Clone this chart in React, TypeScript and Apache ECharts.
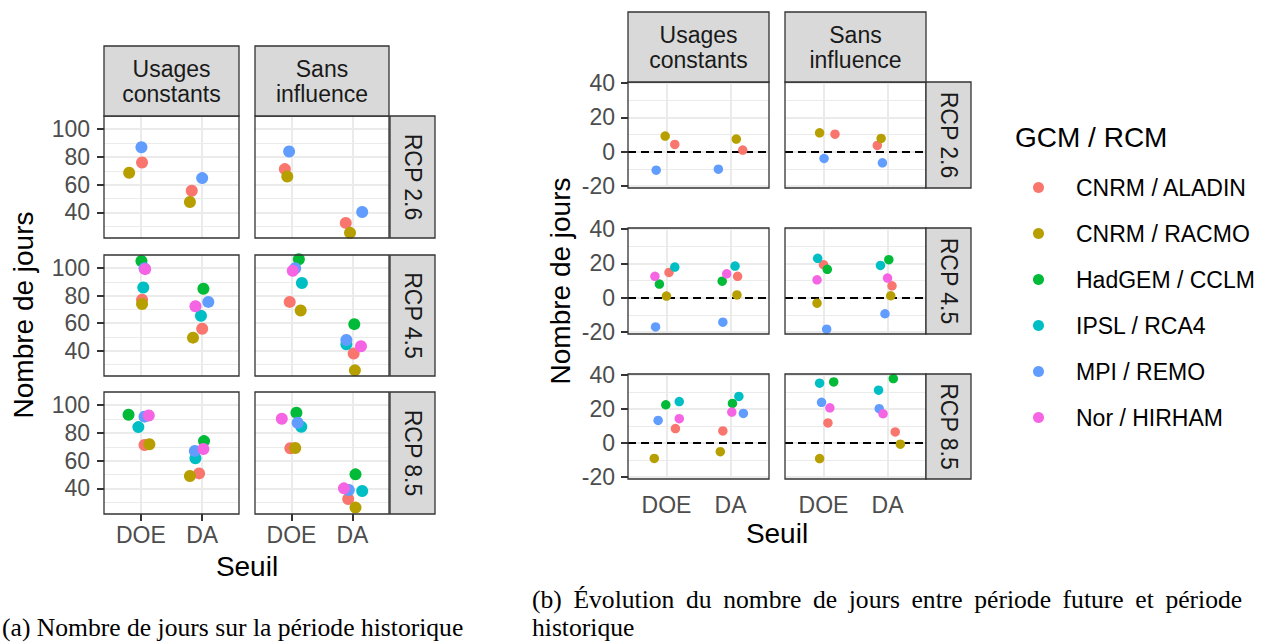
import React, { useEffect, useRef } from 'react';
import * as echarts from 'echarts';

// ---------- data ----------
const MODELS = ['CNRM / ALADIN', 'CNRM / RACMO', 'HadGEM / CCLM', 'IPSL / RCA4', 'MPI / REMO', 'Nor / HIRHAM'];
const COLORS = ['#F8766D', '#B79F00', '#00BA38', '#00BFC4', '#619CFF', '#F564E3'];
const SEUILS = ['DOE', 'DA'];
const SCENARIOS = ['Usages\nconstants', 'Sans\ninfluence'];
const RCPS = ['RCP 2.6', 'RCP 4.5', 'RCP 8.5'];
const HIST_TICKS = [40, 60, 80, 100];
const HIST_MINOR = [30, 50, 70, 90];
const DELTA_TICKS = [-20, 0, 20, 40];
const DELTA_MINOR = [-10, 10, 30];

// values per model: [DOE, DA] (null = model not available)
const HIST_26_USAGES = [[76.0, 55.6], [68.6, 47.5], null, null, [87.0, 64.7], null];
const HIST_26_SANS = [[71.2, 32.4], [65.9, 25.2], null, null, [83.9, 40.3], null];
const HIST_45_USAGES = [[77.0, 55.9], [73.9, 49.4], [105.2, 85.0], [85.9, 65.3], [99.8, 75.4], [99.2, 72.2]];
const HIST_45_SANS = [[75.4, 37.9], [69.1, 25.6], [106.4, 59.2], [89.1, 44.6], [99.9, 47.7], [98.0, 43.1]];
const HIST_85_USAGES = [[71.3, 50.8], [71.8, 48.9], [93.1, 74.1], [84.2, 61.7], [91.7, 67.0], [92.5, 68.4]];
const HIST_85_SANS = [[68.9, 32.3], [69.1, 26.1], [94.6, 50.1], [84.4, 38.1], [87.3, 38.8], [90.2, 40.0]];

const DELTA_26_USAGES = [[4.2, 0.9], [9.1, 7.3], null, null, [-10.8, -10.2], null];
const DELTA_26_SANS = [[10.2, 3.6], [11.0, 7.7], null, null, [-4.0, -6.5], null];
const DELTA_45_USAGES = [[14.7, 12.4], [0.9, 1.6], [7.9, 9.6], [17.8, 18.4], [-17.1, -14.3], [12.4, 13.9]];
const DELTA_45_SANS = [[19.2, 6.9], [-3.2, 1.1], [16.5, 22.1], [22.9, 18.8], [-18.4, -9.4], [10.4, 11.4]];
const DELTA_85_USAGES = [[8.5, 7.1], [-9.1, -5.1], [22.5, 23.3], [24.4, 27.4], [13.3, 17.4], [14.3, 18.2]];
const DELTA_85_SANS = [[11.8, 6.5], [-9.2, -0.7], [35.9, 37.9], [35.2, 31.1], [23.9, 20.2], [20.7, 17.2]];

// horizontal jitter (category units) per model: [DOE, DA]
const J_HIST_26_USAGES = [[0.02, -0.17], [-0.19, -0.2], null, null, [0.01, 0.0], null];
const J_HIST_26_SANS = [[-0.11, -0.11], [-0.07, -0.04], null, null, [-0.04, 0.16], null];
const J_HIST_45_USAGES = [[0.02, 0.0], [0.02, -0.15], [0.01, 0.02], [0.04, -0.02], [0.06, 0.1], [0.07, -0.11]];
const J_HIST_45_SANS = [[-0.03, 0.02], [0.15, 0.04], [0.12, 0.03], [0.17, -0.1], [0.06, -0.1], [0.02, 0.14]];
const J_HIST_85_USAGES = [[0.06, -0.05], [0.14, -0.2], [-0.2, 0.03], [-0.04, -0.11], [0.06, -0.12], [0.13, 0.02]];
const J_HIST_85_SANS = [[-0.02, -0.07], [0.06, 0.05], [0.08, 0.05], [0.16, 0.16], [0.1, -0.06], [-0.16, -0.14]];

const J_DELTA_26_USAGES = [[0.13, 0.19], [-0.02, 0.09], null, null, [-0.16, -0.19], null];
const J_DELTA_26_SANS = [[0.18, -0.16], [-0.06, -0.1], null, null, [0.01, -0.08], null];
const J_DELTA_45_USAGES = [[0.04, 0.11], [0.0, 0.1], [-0.11, -0.13], [0.13, 0.07], [-0.17, -0.12], [-0.18, -0.06]];
const J_DELTA_45_SANS = [[0.0, 0.07], [-0.1, 0.05], [0.06, 0.02], [-0.09, -0.11], [0.05, -0.04], [-0.1, 0.0]];
const J_DELTA_85_USAGES = [[0.14, -0.12], [-0.19, -0.16], [-0.01, 0.03], [0.2, 0.13], [-0.13, 0.2], [0.2, 0.02]];
const J_DELTA_85_SANS = [[0.07, 0.12], [-0.06, 0.2], [0.16, 0.09], [-0.06, -0.14], [-0.03, -0.13], [0.1, -0.07]];

const AXIS_TITLE_Y = 'Nombre de jours';
const AXIS_TITLE_X = 'Seuil';
const LEGEND_TITLE = 'GCM / RCM';
const CAPTION_A = '(a) Nombre de jours sur la période historique';
const CAPTION_B1 = '(b) Évolution du nombre de jours entre période future et période';
const CAPTION_B2 = 'historique';

// ---------- layout / style ----------
const SANS = '"Liberation Sans", Arial, Helvetica, sans-serif';
const SERIF = '"Liberation Serif", "Times New Roman", serif';
const CAPTION_SIZE = 25.6;

const FIGS = [
  {
    cols: [[104, 239], [255, 389]],
    rows: [[116, 238], [255, 376], [392, 514]],
    stripTop: [46, 116],
    stripRight: [390, 435],
    yMin: 21.5, yMax: 109.5,
    ticks: HIST_TICKS, minor: HIST_MINOR, zero: false,
    values: [[HIST_26_USAGES, HIST_26_SANS], [HIST_45_USAGES, HIST_45_SANS], [HIST_85_USAGES, HIST_85_SANS]],
    jitter: [[J_HIST_26_USAGES, J_HIST_26_SANS], [J_HIST_45_USAGES, J_HIST_45_SANS], [J_HIST_85_USAGES, J_HIST_85_SANS]],
    symbolSize: 12, yLabelMargin: 14, xLabelMargin: 9,
    yTitle: [23, 315], xTitle: [247, 566],
  },
  {
    cols: [[628, 769], [785, 926]],
    rows: [[82, 188], [228, 334], [374, 479]],
    stripTop: [12, 82],
    stripRight: [926, 971],
    yMin: -21.2, yMax: 40.6,
    ticks: DELTA_TICKS, minor: DELTA_MINOR, zero: true,
    values: [[DELTA_26_USAGES, DELTA_26_SANS], [DELTA_45_USAGES, DELTA_45_SANS], [DELTA_85_USAGES, DELTA_85_SANS]],
    jitter: [[J_DELTA_26_USAGES, J_DELTA_26_SANS], [J_DELTA_45_USAGES, J_DELTA_45_SANS], [J_DELTA_85_USAGES, J_DELTA_85_SANS]],
    symbolSize: 9.5, yLabelMargin: 13, xLabelMargin: 14,
    yTitle: [560, 281], xTitle: [777, 533],
  },
];

function buildOption() {
  const grid: any[] = [];
  const xAxis: any[] = [];
  const yAxis: any[] = [];
  const series: any[] = [];
  const graphic: any[] = [];

  FIGS.forEach((fig) => {
    fig.rows.forEach((row, r) => {
      fig.cols.forEach((col, c) => {
        const gi = grid.length;
        const bottom = r === fig.rows.length - 1;
        const leftCol = c === 0;
        grid.push({ left: col[0], top: row[0], width: col[1] - col[0], height: row[1] - row[0], show: false, containLabel: false });
        xAxis.push({
          type: 'value', gridIndex: gi, min: 0.4, max: 2.6,
          splitLine: { show: false }, axisLine: { show: false },
          axisTick: { show: bottom, customValues: [1, 2], length: 7, lineStyle: { color: '#333333', width: 2 } },
          axisLabel: {
            show: bottom, customValues: [1, 2], margin: fig.xLabelMargin,
            formatter: (v: number) => SEUILS[Math.round(v) - 1] ?? '',
            color: '#4D4D4D', fontSize: 23, fontFamily: SANS,
          },
        });
        yAxis.push({
          type: 'value', gridIndex: gi, min: fig.yMin, max: fig.yMax,
          splitLine: { show: false }, axisLine: { show: false },
          axisTick: { show: leftCol, customValues: fig.ticks, length: 7, lineStyle: { color: '#333333', width: 2 } },
          axisLabel: { show: leftCol, customValues: fig.ticks, margin: fig.yLabelMargin, color: '#4D4D4D', fontSize: 23, fontFamily: SANS },
        });
        const gl = (w: number) => ({ color: '#EBEBEB', width: w, type: 'solid' });
        const mlData: any[] = [
          ...fig.minor.map((v) => ({ yAxis: v, lineStyle: gl(1) })),
          ...fig.ticks.map((v) => ({ yAxis: v, lineStyle: gl(2) })),
          { xAxis: 1, lineStyle: gl(2) },
          { xAxis: 2, lineStyle: gl(2) },
        ];
        if (fig.zero) mlData.push({ yAxis: 0, lineStyle: { color: '#000000', width: 2.2, type: [8, 5] } });
        series.push({
          type: 'scatter', xAxisIndex: gi, yAxisIndex: gi, data: [], silent: true, z: 1,
          markLine: {
            silent: true, symbol: ['none', 'none'], z: 1, animation: false,
            label: { show: false }, emphasis: { disabled: true }, data: mlData,
          },
        });
        const vals = fig.values[r][c];
        const jit = fig.jitter[r][c];
        MODELS.forEach((name, m) => {
          const v = vals[m];
          const j = jit[m];
          if (!v || !j) return;
          series.push({
            type: 'scatter', name, xAxisIndex: gi, yAxisIndex: gi, z: 3,
            symbol: 'circle', symbolSize: fig.symbolSize,
            itemStyle: { color: COLORS[m], opacity: 1 },
            emphasis: { disabled: true },
            data: v.map((val, k) => [k + 1 + j[k], val]),
          });
        });
        graphic.push({
          type: 'rect', z: 50, silent: true,
          shape: { x: col[0], y: row[0], width: col[1] - col[0], height: row[1] - row[0] },
          style: { fill: 'none', stroke: '#333333', lineWidth: 1.3 },
        });
      });
      graphic.push({
        type: 'rect', z: 50, silent: true,
        shape: { x: fig.stripRight[0], y: row[0], width: fig.stripRight[1] - fig.stripRight[0], height: row[1] - row[0] },
        style: { fill: '#D9D9D9', stroke: '#333333', lineWidth: 1.3 },
      });
      graphic.push({
        type: 'text', z: 51, silent: true,
        x: (fig.stripRight[0] + fig.stripRight[1]) / 2, y: (row[0] + row[1]) / 2, rotation: -Math.PI / 2,
        style: { text: RCPS[r], fill: '#1A1A1A', font: `23px ${SANS}`, textAlign: 'center', textVerticalAlign: 'middle' },
      });
    });
    fig.cols.forEach((col, c) => {
      graphic.push({
        type: 'rect', z: 50, silent: true,
        shape: { x: col[0], y: fig.stripTop[0], width: col[1] - col[0], height: fig.stripTop[1] - fig.stripTop[0] },
        style: { fill: '#D9D9D9', stroke: '#333333', lineWidth: 1.3 },
      });
      graphic.push({
        type: 'text', z: 51, silent: true,
        x: (col[0] + col[1]) / 2, y: (fig.stripTop[0] + fig.stripTop[1]) / 2,
        style: { text: SCENARIOS[c], fill: '#1A1A1A', font: `23px ${SANS}`, lineHeight: 25, textAlign: 'center', textVerticalAlign: 'middle' },
      });
    });
    graphic.push({
      type: 'text', z: 51, silent: true, x: fig.yTitle[0], y: fig.yTitle[1], rotation: Math.PI / 2,
      style: { text: AXIS_TITLE_Y, fill: '#000000', font: `28px ${SANS}`, textAlign: 'center', textVerticalAlign: 'middle' },
    });
    graphic.push({
      type: 'text', z: 51, silent: true, x: fig.xTitle[0], y: fig.xTitle[1],
      style: { text: AXIS_TITLE_X, fill: '#000000', font: `28px ${SANS}`, textAlign: 'center', textVerticalAlign: 'middle' },
    });
  });

  graphic.push({
    type: 'text', z: 51, silent: true, x: 1015, y: 137,
    style: { text: LEGEND_TITLE, fill: '#000000', font: `28px ${SANS}`, textAlign: 'left', textVerticalAlign: 'middle' },
  });
  // captions
  graphic.push({
    type: 'text', z: 51, silent: true, x: 2, y: 627,
    style: { text: CAPTION_A, fill: '#000000', font: `${CAPTION_SIZE}px ${SERIF}`, textAlign: 'left', textVerticalAlign: 'middle' },
  });
  // first line of caption (b) is justified in the reference: widen the inter-word spaces
  const b1Words = CAPTION_B1.split(' ');
  graphic.push({
    type: 'text', z: 51, silent: true, x: 532, y: 599,
    style: {
      text: b1Words.join('{sp| }'),
      fill: '#000000', font: `${CAPTION_SIZE}px ${SERIF}`, textAlign: 'left', textVerticalAlign: 'middle',
      rich: { sp: { width: 11.6, font: `${CAPTION_SIZE}px ${SERIF}` } },
    },
  });
  graphic.push({
    type: 'text', z: 51, silent: true, x: 532, y: 627,
    style: { text: CAPTION_B2, fill: '#000000', font: `${CAPTION_SIZE}px ${SERIF}`, textAlign: 'left', textVerticalAlign: 'middle' },
  });

  return {
    animation: false,
    backgroundColor: '#ffffff',
    grid, xAxis, yAxis, series, graphic,
    legend: {
      orient: 'vertical', left: 1033, top: 176, padding: 0,
      itemWidth: 11, itemHeight: 11, itemGap: 23, icon: 'circle',
      selectedMode: false, data: MODELS,
      textStyle: { fontSize: 23, color: '#000000', fontFamily: SANS, padding: [0, 0, 0, 27] },
    },
  };
}

export default function App() {
  const ref = useRef<HTMLDivElement>(null);
  useEffect(() => {
    if (!ref.current) return;
    const chart = echarts.init(ref.current, null, { renderer: 'svg', width: 1269, height: 642 });
    chart.setOption(buildOption() as any);
    return () => chart.dispose();
  }, []);
  return (
    <div
      ref={ref}
      style={{ position: 'absolute', left: 0, top: 0, width: 1269, height: 642, background: '#ffffff' }}
    />
  );
}
